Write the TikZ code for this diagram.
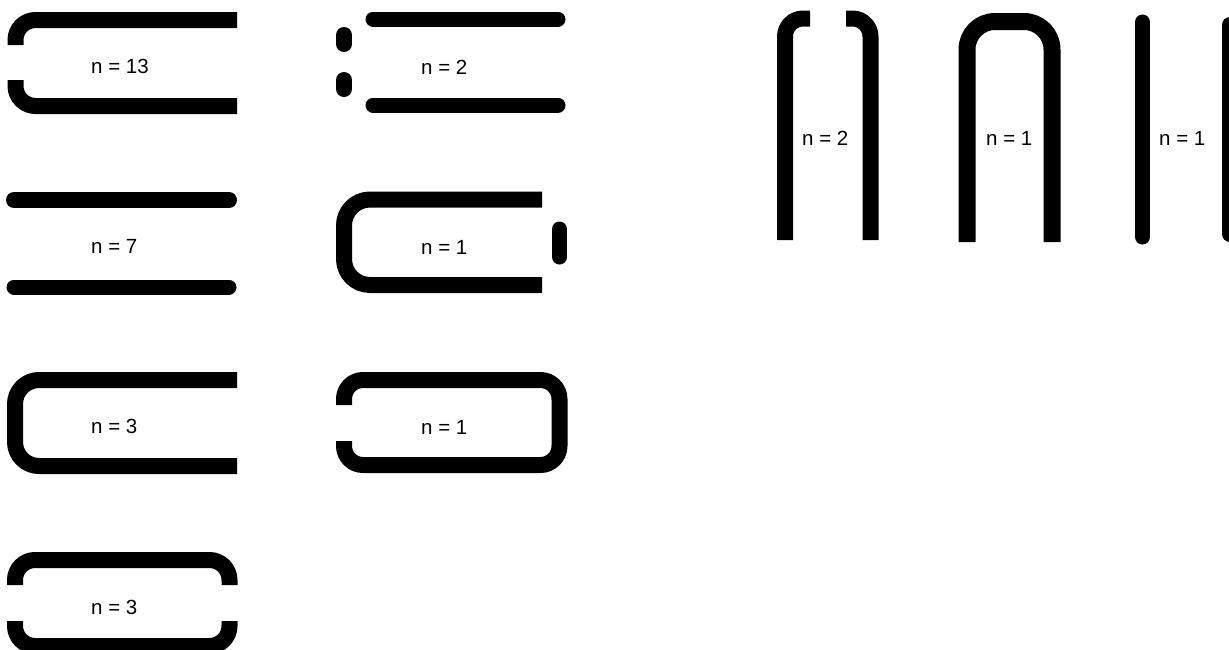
\documentclass[tikz,border=0pt]{standalone}
\usepackage{fontspec}
\setmainfont{Liberation Sans}
\begin{document}
\begin{tikzpicture}[x=1pt,y=-1pt,
  bar/.style={line width=16pt, line cap=butt, line join=round},
  pill/.style={line width=16pt, line cap=round},
  lbl/.style={anchor=base west, inner sep=0pt, font=\fontsize{20.5}{24}\selectfont}]
\useasboundingbox (0,0) rectangle (1229,649);
\clip (0,0) rectangle (1229,649);
% n = 13
\draw[bar, rounded corners=20pt] (237,20) -- (15.5,20) -- (15.5,45);
\draw[bar, rounded corners=20pt] (15.5,80) -- (15.5,106) -- (237,106);
\node[lbl] (t13) at (91,73) {n = 13};
% n = 2
\draw[pill, line width=15pt] (373,19) -- (558,19);
\draw[pill, line width=15pt] (373,105) -- (558,105);
\draw[pill] (344,35) -- (344,44);
\draw[pill] (344,80) -- (344,89);
\node[lbl] (t2a) at (421,74) {n = 2};
% n = 7
\draw[pill] (14,200) -- (229,200);
\draw[pill, line width=15pt] (14,287) -- (229,287);
\node[lbl] (t7) at (91,253) {n = 7};
% n = 1 (C with separate piece)
\draw[bar, rounded corners=26pt] (542,199.5) -- (344,199.5) -- (344,285) -- (542,285);
\draw[pill, line width=15pt] (559.5,229) -- (559.5,257);
\node[lbl] (t1a) at (421,254) {n = 1};
% n = 1 (closed with gap)
\draw[bar, rounded corners=19pt] (344,405) -- (344,380) -- (559.5,380) -- (559.5,465) -- (344,465) -- (344,441);
\node[lbl] (t1b) at (421,434) {n = 1};
% n = 3 (C)
\draw[bar, rounded corners=24pt] (237,380) -- (15,380) -- (15,466) -- (237,466);
\node[lbl] (t3a) at (91,433) {n = 3};
% n = 3 (brackets)
\draw[bar, rounded corners=20pt] (15,585) -- (15,560) -- (229.5,560) -- (229.5,585);
\draw[bar, rounded corners=20pt] (15,621) -- (15,646) -- (229.5,646) -- (229.5,621);
\node[lbl] (t3b) at (91,614) {n = 3};
% right side n = 2
\draw[bar, rounded corners=18pt] (810,18.5) -- (785,18.5) -- (785,240);
\draw[bar, rounded corners=18pt] (846,18.5) -- (870.5,18.5) -- (870.5,240);
\node[lbl] (t2b) at (802,145) {n = 2};
% inverted U
\draw[bar, line width=17pt, rounded corners=28pt] (967,242) -- (967,21.5) -- (1052,21.5) -- (1052,242);
\node[lbl] (t1c) at (986,145) {n = 1};
% single bar
\draw[pill, line width=15pt] (1142.5,22) -- (1142.5,237);
\node[lbl] (t1d) at (1159,145) {n = 1};
% cut-off bar
\draw[pill] (1230,25) -- (1230,234);
\end{tikzpicture}
\end{document}
